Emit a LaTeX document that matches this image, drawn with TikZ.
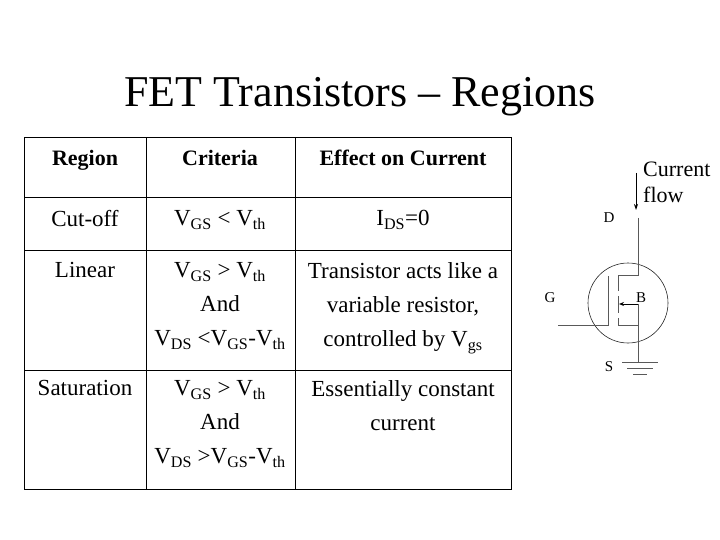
\documentclass[tikz,border=0pt]{standalone}
\usepackage{fontspec}
\setmainfont{Liberation Serif}
\usetikzlibrary{arrows.meta}
\newcommand{\sbs}[1]{\textsubscript{#1}}
\begin{document}
\begin{tikzpicture}[x=1pt,y=-1pt,
  cell/.style={align=center,font=\fontsize{23}{34}\selectfont,anchor=north},
  hdr/.style={font=\fontsize{22}{34}\selectfont\bfseries,anchor=base},
  grid/.style={line width=1pt},
  gl/.style={gray!70!black,line width=0.9pt},
  lab/.style={font=\fontsize{15}{17}\selectfont}]
\useasboundingbox (0,0) rectangle (720,540);
\node[font=\fontsize{44}{48}\selectfont] (title) at (360,97) {FET Transistors – Regions};
% table
\draw[grid] (24,138) rectangle (511,489);
\draw[grid] (146,138) -- (146,489) (295,138) -- (295,489);
\draw[grid] (24,198) -- (511,198) (24,250) -- (511,250) (24,370) -- (511,370);
\node[hdr] (h1) at (85,166) {Region};
\node[hdr] (h2) at (220,166) {Criteria};
\node[hdr] (h3) at (403,166) {Effect on Current};
\node[cell] (r1a) at (85,207) {Cut-off};
\node[cell] (r1b) at (220,207) {V\sbs{GS} < V\sbs{th}};
\node[cell] (r1c) at (403,207) {I\sbs{DS}=0};
\node[cell] (r2a) at (85,259) {Linear};
\node[cell] (r2b) at (220,259) {V\sbs{GS} > V\sbs{th}\\And\\V\sbs{DS} <V\sbs{GS}-V\sbs{th}};
\node[cell] (r2c) at (403,259) {Transistor acts like a\\variable resistor,\\controlled by V\sbs{gs}};
\node[cell] (r3a) at (85,377) {Saturation};
\node[cell] (r3b) at (220,377) {V\sbs{GS} > V\sbs{th}\\And\\V\sbs{DS} >V\sbs{GS}-V\sbs{th}};
\node[cell] (r3c) at (403,377) {Essentially constant\\current};
% transistor
\node[align=left,anchor=north west,font=\fontsize{22}{26}\selectfont,inner sep=0] (cf) at (643,162) {Current\\flow};
\coordinate (a1) at (636,173); \coordinate (a2) at (636,210);
\draw[-{Stealth[length=6pt,width=4pt]},line width=0.8pt] (a1) -- (a2);
\node[circle,draw,gray!30!black,line width=0.6pt,minimum size=80pt,inner sep=0] (c) at (628,303) {};
\coordinate (d0) at (638,218); \coordinate (d1) at (638,275); \coordinate (d2) at (618,275);
\draw[gl] (d0) -- (d1) -- (d2);
\draw[gl] (618,275) -- (618,291) (618,296) -- (618,313) (618,318) -- (618,325) -- (638,325);
\draw[gl] (608,276) -- (608,325) -- (558,325);
\draw[gl] (638,304) -- (638,362);
\draw[gl,-{Stealth[length=5pt,width=4pt]},black] (638,304) -- (619,304);
\draw[gl] (622,362) -- (658,362) (627,368) -- (653,368) (633,374) -- (647,374);
\node[lab] (D) at (609,218) {D};
\node[lab] (G) at (550,298) {G};
\node[lab] (B) at (641,298) {B};
\node[lab] (S) at (609,367) {S};
\end{tikzpicture}
\end{document}
